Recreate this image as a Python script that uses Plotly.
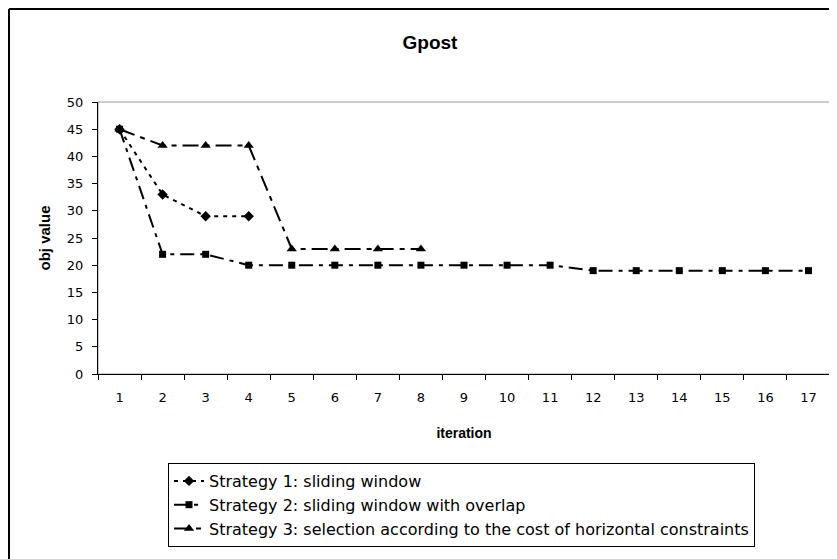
import plotly.graph_objects as go

iterations = [str(i) for i in range(1, 18)]
s1_iter = ["1", "2", "3", "4"]
s1_vals = [45, 33, 29, 29]
s2_iter = iterations
s2_vals = [45, 22, 22, 20, 20, 20, 20, 20, 20, 20, 20, 19, 19, 19, 19, 19, 19]
s3_iter = ["1", "2", "3", "4", "5", "6", "7", "8"]
s3_vals = [45, 42, 42, 42, 23, 23, 23, 23]
names = [
    "Strategy 1: sliding window",
    "Strategy 2: sliding window with overlap",
    "Strategy 3: selection according to the cost of horizontal constraints",
]

FONT = "DejaVu Sans, Arial, sans-serif"
TFONT = "Arial, Liberation Sans, sans-serif"
OFF = 8  # page body margin
W, H = 829, 551
L, T = 98 - OFF, 102 - OFF
pw, ph = 732, 272
R, B = W - L - pw, H - T - ph

fig = go.Figure()
fig.add_trace(go.Scatter(x=s1_iter, y=s1_vals, name=names[0], mode="lines+markers",
                         line=dict(color="black", width=2, dash="4px,5px"),
                         marker=dict(symbol="diamond", size=8, color="black")))
fig.add_trace(go.Scatter(x=s2_iter, y=s2_vals, name=names[1], mode="lines+markers",
                         line=dict(color="black", width=2, dash="14px,6px,4px,6px"),
                         marker=dict(symbol="square", size=7, color="black")))
fig.add_trace(go.Scatter(x=s3_iter, y=s3_vals, name=names[2], mode="lines+markers",
                         line=dict(color="black", width=2, dash="16px,6px,5px,6px"),
                         marker=dict(symbol="triangle-up", size=9, color="black")))


def px2x(p):
    return (p - OFF - L) / pw


def py2y(p):
    return (T + ph - (p - OFF)) / ph


shapes = [
    dict(type="rect", xref="paper", yref="paper", x0=0, y0=0, x1=1, y1=1,
         line=dict(color="#999999", width=1), layer="below"),
    dict(type="line", xref="paper", yref="paper", x0=px2x(9), y0=py2y(9), x1=px2x(9), y1=py2y(600),
         line=dict(color="black", width=2)),
    dict(type="line", xref="paper", yref="paper", x0=px2x(9), y0=py2y(9), x1=px2x(900), y1=py2y(9),
         line=dict(color="black", width=2)),
]

fig.update_layout(
    width=W, height=H,
    margin=dict(l=L, r=R, t=T, b=B),
    paper_bgcolor="white", plot_bgcolor="white",
    font=dict(family=FONT, size=13, color="black"),
    title=dict(text="<b>Gpost</b>", x=(430 - OFF) / W, xref="container", xanchor="center",
               y=1 - (42 - OFF) / H, yref="container", yanchor="middle",
               font=dict(family=TFONT, size=19, color="black")),
    xaxis=dict(type="category", categoryorder="array", categoryarray=iterations,
               range=[-0.5, 16.5], tickson="boundaries", ticks="outside", ticklen=5,
               tickcolor="black", showline=True, linecolor="black", linewidth=1,
               showgrid=False, zeroline=False, ticklabelstandoff=11,
               tickfont=dict(family=FONT, size=13),
               title=dict(text="<b>iteration</b>", standoff=24,
                          font=dict(family=TFONT, size=14))),
    yaxis=dict(range=[0, 50], tickmode="linear", tick0=0, dtick=5, ticks="outside",
               ticklen=5, tickcolor="black", showline=True, linecolor="black", linewidth=1,
               showgrid=False, zeroline=False, ticklabelstandoff=6,
               tickfont=dict(family=FONT, size=13),
               title=dict(text="<b>obj value</b>", standoff=12,
                          font=dict(family=TFONT, size=15))),
    legend=dict(x=px2x(168), y=py2y(463), xanchor="left", yanchor="top",
                bordercolor="black", borderwidth=1, bgcolor="white",
                font=dict(family=FONT, size=16), tracegroupgap=0,
                entrywidth=586, entrywidthmode="pixels"),
    shapes=shapes,
    showlegend=True,
)

fig.write_html("out.html")
